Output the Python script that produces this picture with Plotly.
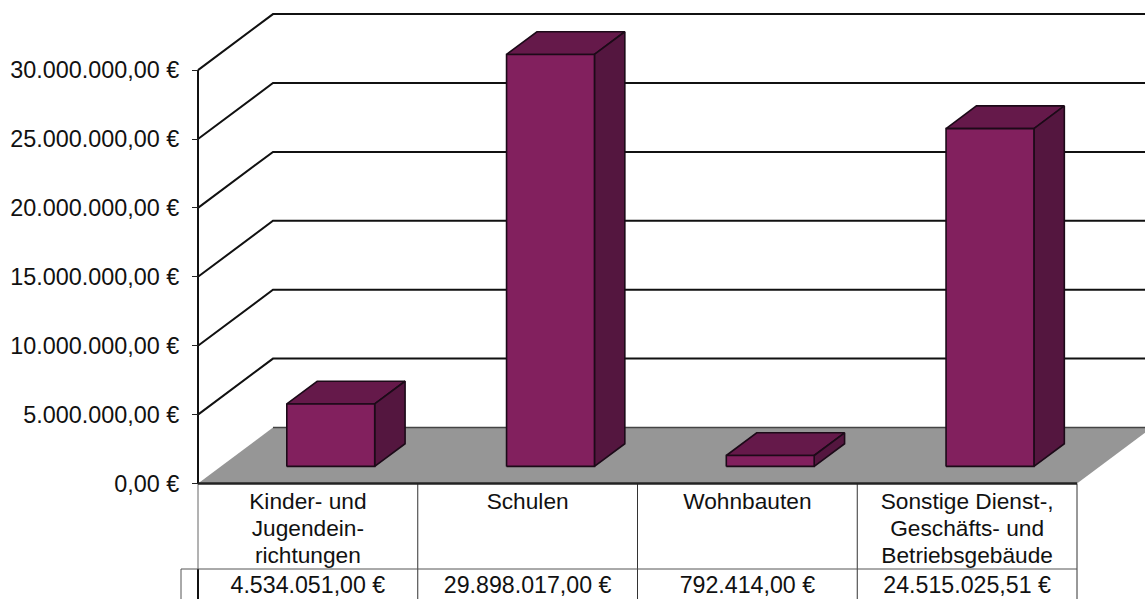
import plotly.graph_objects as go

category_lines = [["Kinder- und", "Jugendein-", "richtungen"], ["Schulen"], ["Wohnbauten"],
                  ["Sonstige Dienst-,", "Geschäfts- und", "Betriebsgebäude"]]
values = [4534051.00, 29898017.00, 792414.00, 24515025.51]
y_ticks = [0, 5000000, 10000000, 15000000, 20000000, 25000000, 30000000]

W, H = 1145, 599
PX_X0, PX_CAT = 198.0, 219.75   # axis x pixel, pixels per category
PX_Y0, PX_M = 483.5, 13.78 / 1e6  # zero line pixel, pixels per euro
X_RANGE = [-PX_X0 / PX_CAT, (W - PX_X0) / PX_CAT]
Y_RANGE = [-(H - PX_Y0) / PX_M, PX_Y0 / PX_M]
DX = 75 / PX_CAT      # full depth in x units
DY = 56 / PX_M        # full depth in y units
D_FRONT, D_BACK = 0.305, 0.71
BAR_W = 0.4


def ypx(px):
    return (PX_Y0 - px) / PX_M


ROW_TOP = ypx(569)
VALUE_Y = ypx(587)
LINE_Y = [ypx(503), ypx(530), ypx(557)]
ROW_LEFT = (181 - PX_X0) / PX_CAT
FAR_RIGHT = 5.0

FONT = "Liberation Sans, Arial, sans-serif"
FS_TICK = 23.4
FS_CAT = 22.7
FS_VAL = 23.2
C_FRONT, C_TOP, C_SIDE = "#82205e", "#65194a", "#54163f"
C_EDGE = "#1c0a18"
C_FLOOR = "#969696"


def de(v):
    return f"{v:,.2f}".replace(",", "X").replace(".", ",").replace("X", ".") + " €"


def P(x, y, d=0.0):
    return x + d * DX, y + d * DY


fig = go.Figure()


def line(xs, ys, color="#111111", width=2):
    fig.add_trace(go.Scatter(x=xs, y=ys, mode="lines", line=dict(color=color, width=width),
                             hoverinfo="skip", showlegend=False))


def face(pts, fill, edge=C_EDGE, width=1.6):
    xs = [p[0] for p in pts] + [pts[0][0]]
    ys = [p[1] for p in pts] + [pts[0][1]]
    fig.add_trace(go.Scatter(x=xs, y=ys, mode="lines", fill="toself", fillcolor=fill,
                             line=dict(color=edge, width=width), hoverinfo="skip", showlegend=False))


# floor
n = len(category_lines)
fig.add_trace(go.Scatter(
    x=[P(0, 0)[0], P(n, 0)[0], P(n, 0, 1)[0], P(0, 0, 1)[0], P(0, 0)[0]],
    y=[P(0, 0)[1], P(n, 0)[1], P(n, 0, 1)[1], P(0, 0, 1)[1], P(0, 0)[1]],
    mode="lines", fill="toself", fillcolor=C_FLOOR, line=dict(color="rgba(0,0,0,0)", width=0),
    hoverinfo="skip", showlegend=False))
line([P(0, 0, 1)[0], FAR_RIGHT], [DY, DY], "#444444", 1.5)

# wall gridlines
for t in y_ticks[1:]:
    line([P(0, t)[0], P(0, t, 1)[0], FAR_RIGHT], [t, t + DY, t + DY], "#111111", 2)

# y axis line & table
line([0, 0], [y_ticks[-1], 0], "#111111", 2)
line([0, 0], [0, ROW_TOP], "#666666", 1)
line([0, 0], [ROW_TOP, Y_RANGE[0]], "#111111", 2)
for i in range(1, n + 1):
    line([i, i], [0, Y_RANGE[0]], "#333333", 1)
line([ROW_LEFT, n], [ROW_TOP, ROW_TOP], "#555555", 1)
line([ROW_LEFT, ROW_LEFT], [ROW_TOP, Y_RANGE[0]], "#555555", 1)
line([0, n], [0, 0], "#222222", 2.5)

# bars
for i, v in enumerate(values):
    x0 = i + 0.5 - BAR_W / 2
    x1 = i + 0.5 + BAR_W / 2
    face([P(x0, v, D_FRONT), P(x0, v, D_BACK), P(x1, v, D_BACK), P(x1, v, D_FRONT)], C_TOP)
    face([P(x1, 0, D_FRONT), P(x1, 0, D_BACK), P(x1, v, D_BACK), P(x1, v, D_FRONT)], C_SIDE)
    face([P(x0, 0, D_FRONT), P(x1, 0, D_FRONT), P(x1, v, D_FRONT), P(x0, v, D_FRONT)], C_FRONT)

# category labels, one text per line
cx, cy, ct = [], [], []
for i, lines in enumerate(category_lines):
    for j, s in enumerate(lines):
        cx.append(i + 0.5)
        cy.append(LINE_Y[j])
        ct.append(s)
fig.add_trace(go.Scatter(x=cx, y=cy, mode="text", text=ct, textposition="middle center",
                         textfont=dict(family=FONT, size=FS_CAT, color="#111111"),
                         hoverinfo="skip", showlegend=False, cliponaxis=False))

# value row
fig.add_trace(go.Scatter(
    x=[i + 0.5 for i in range(n)], y=[VALUE_Y] * n, mode="text",
    text=[de(v) for v in values], textposition="middle center",
    textfont=dict(family=FONT, size=FS_VAL, color="#111111"),
    hoverinfo="skip", showlegend=False, cliponaxis=False))

fig.update_layout(
    width=W, height=H, margin=dict(l=0, r=0, t=0, b=0),
    paper_bgcolor="white", plot_bgcolor="white", showlegend=False,
    xaxis=dict(range=X_RANGE, domain=[0, 1], showticklabels=False,
               ticks="", showgrid=False, zeroline=False, showline=False, automargin=False),
    yaxis=dict(range=Y_RANGE, domain=[0, 1], anchor="free", position=PX_X0 / W,
               tickmode="array", tickvals=y_ticks, ticktext=[de(t) for t in y_ticks],
               ticks="outside", ticklen=6, tickcolor="#222222", tickwidth=1,
               showgrid=False, zeroline=False, showline=False, automargin=False,
               ticklabelstandoff=8,
               tickfont=dict(family=FONT, size=FS_TICK, color="#111111")),
)
fig.write_html("out.html", config={"displayModeBar": False},
               post_script="document.documentElement.style.overflow='hidden';"
                           "document.body.style.margin='0';document.body.style.overflow='hidden';")
